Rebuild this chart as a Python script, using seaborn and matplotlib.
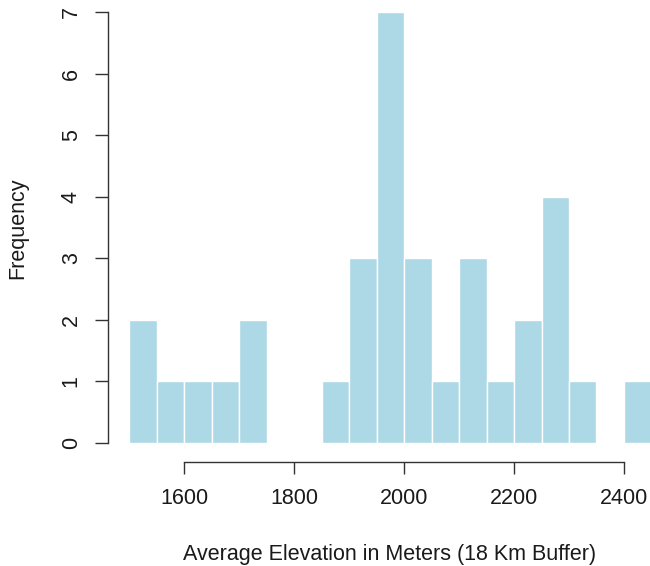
import matplotlib
matplotlib.use('Agg')
import matplotlib.pyplot as plt
import seaborn as sns
import numpy as np

# histogram bins (width 50 m) and counts
bin_edges = list(range(1500, 2451, 50))
counts = [2, 1, 1, 1, 2, 0, 0, 1, 3, 7, 3, 1, 3, 1, 2, 4, 1, 0, 1]
x_ticks = [1600, 1800, 2000, 2200, 2400]
y_ticks = [0, 1, 2, 3, 4, 5, 6, 7]

sns.set_style('white')
plt.rcParams['font.family'] = ['Liberation Sans', 'DejaVu Sans']

bin_mids = np.array(bin_edges[:-1]) + 25

fig = plt.figure(figsize=(6.5, 5.66), dpi=100)
ax = fig.add_axes([108 / 650, 104 / 566, 542 / 650, 462 / 566])

sns.histplot(x=bin_mids, weights=counts, bins=bin_edges, color='lightblue',
             edgecolor='white', linewidth=1.0, alpha=1, ax=ax)

ax.set_xlim(1461.2, 2447.4)
ax.set_ylim(-0.309, 7.2)

for s in ['top', 'right']:
    ax.spines[s].set_visible(False)
ax.spines['left'].set_bounds(0, 7)
ax.spines['bottom'].set_bounds(1600, 2400)
for s in ['left', 'bottom']:
    ax.spines[s].set_color('#333333')
    ax.spines[s].set_linewidth(1.0)

ax.set_xticks(x_ticks)
ax.set_yticks(y_ticks)
ax.tick_params(axis='both', direction='out', bottom=True, left=True, width=1.0,
               color='#333333', labelsize=15.5, labelcolor='#1a1a1a')
ax.tick_params(axis='x', length=8.6, pad=10)
ax.tick_params(axis='y', length=9.4, pad=9.5)
plt.setp(ax.get_yticklabels(), rotation=90, va='center')

ax.set_xlabel('Average Elevation in Meters (18 Km Buffer)', fontsize=15.5, color='#1a1a1a')
ax.set_ylabel('Frequency', fontsize=15.5, color='#1a1a1a')
ax.xaxis.set_label_coords(0.52, -0.177)
ax.yaxis.set_label_coords(-0.147, 0.506)

fig.savefig('out.png', dpi=100)
plt.close()
